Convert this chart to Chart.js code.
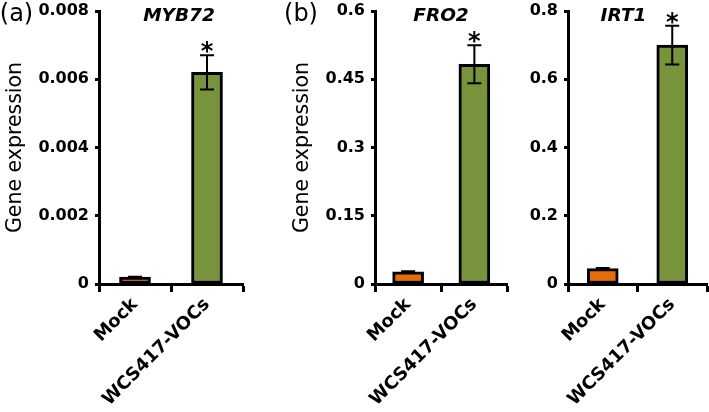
<!DOCTYPE html>
<html><head><meta charset="utf-8">
<script src="https://cdn.jsdelivr.net/npm/chart.js@4/dist/chart.umd.min.js"></script>
<style>
html,body{margin:0;padding:0;background:#fff;}
#wrap{position:relative;width:709px;height:412px;overflow:hidden;background:#fff;}
.p{position:absolute;top:0;height:412px;}
canvas{display:block;}
</style></head><body>
<div id="wrap">
<div class="p" style="left:0;width:250px"><canvas id="ca" width="250" height="412"></canvas></div>
<div class="p" style="left:250px;width:265px"><canvas id="cb" width="265" height="412"></canvas></div>
<div class="p" style="left:515px;width:194px"><canvas id="cc" width="194" height="412"></canvas></div>
</div>
<script>
// ---- data ----
const categories = ["Mock", "WCS417-VOCs"];
const significance = ["", "*"];
const myb72Values = [0.0002, 0.0062];
const myb72Errors = [0.00001, 0.0005];
const fro2Values = [0.027, 0.483];
const fro2Errors = [0.001, 0.042];
const irt1Values = [0.045, 0.70];
const irt1Errors = [0.002, 0.057];
const myb72Ticks = [0, 0.008, 0.002];
const fro2Ticks = [0, 0.6, 0.15];
const irt1Ticks = [0, 0.8, 0.2];

const barColors = ["#E46C0A", "#77933C"];
const FONT = '"DejaVu Sans", sans-serif';

const decor = {
  id: 'decor',
  afterDatasetsDraw(chart, args, o) {
    const ctx = chart.ctx, y = chart.scales.y, meta = chart.getDatasetMeta(0);
    ctx.save();
    ctx.strokeStyle = '#000'; ctx.lineWidth = 2;
    o.values.forEach((v, i) => {
      const e = o.errors[i], x = meta.data[i].x;
      const yt = y.getPixelForValue(v + e), yb = y.getPixelForValue(v - e);
      ctx.beginPath();
      ctx.moveTo(x, yt); ctx.lineTo(x, yb);
      ctx.moveTo(x - 7, yt); ctx.lineTo(x + 7, yt);
      ctx.moveTo(x - 7, yb); ctx.lineTo(x + 7, yb);
      ctx.stroke();
      if (o.sig[i]) {
        ctx.fillStyle = '#000';
        ctx.font = 'bold 24px ' + FONT;
        ctx.textAlign = 'center'; ctx.textBaseline = 'alphabetic';
        ctx.fillText(o.sig[i], x, yt + 4);
      }
    });
    ctx.fillStyle = '#000';
    // gene name
    ctx.font = 'italic bold 18.5px ' + FONT;
    ctx.textAlign = 'center'; ctx.textBaseline = 'middle';
    ctx.fillText(o.gene, o.geneX, 16);
    // panel letter
    if (o.letter) {
      ctx.font = '24px ' + FONT;
      ctx.fillText(o.letter, o.letterX, 15);
    }
    // y title
    if (o.yTitle) {
      const ca = chart.chartArea;
      ctx.translate(o.yTitleX, (ca.top + ca.bottom) / 2);
      ctx.rotate(-Math.PI / 2);
      ctx.font = '20.5px ' + FONT;
      ctx.fillText(o.yTitle, 0, 0);
    }
    ctx.restore();
  }
};

function fmt(v) { return String(Number(v.toFixed(4))); }

function makePanel(id, values, errors, ticks, gene, geneX, letter, letterX, yTitle, yTitleX, yWidth, padRight) {
  return new Chart(document.getElementById(id), {
    type: 'bar',
    data: {
      labels: categories,
      datasets: [{
        data: values,
        backgroundColor: barColors,
        borderColor: '#000',
        borderWidth: 3,
        borderSkipped: false,
        barThickness: 31
      }]
    },
    options: {
      responsive: false,
      animation: false,
      events: [],
      layout: { padding: { top: 11, bottom: 0, left: 0, right: padRight } },
      plugins: {
        legend: { display: false }, tooltip: { enabled: false }, title: { display: false },
        decor: { values, errors, sig: significance, gene, geneX, letter, letterX, yTitle, yTitleX }
      },
      scales: {
        x: {
          offset: true,
          border: { display: true, color: '#000', width: 3 },
          grid: { offset: true, drawOnChartArea: false, drawTicks: true, tickLength: 8, tickWidth: 3, tickColor: '#000' },
          ticks: { color: '#000', font: { family: FONT, weight: 'bold', size: 18 }, minRotation: 45, maxRotation: 45, padding: 2, autoSkip: false },
          afterFit(s) { s.height = 128; s.paddingLeft = 0; s.paddingRight = 0; }
        },
        y: {
          min: ticks[0], max: ticks[1],
          border: { display: true, color: '#000', width: 3 },
          grid: { drawOnChartArea: false, drawTicks: true, tickLength: 4, tickWidth: 3, tickColor: '#000' },
          ticks: { stepSize: ticks[2], color: '#000', font: { family: FONT, weight: 'bold', size: 16 }, padding: 6, callback: v => fmt(v) },
          afterFit(s) { s.width = yWidth; s.paddingTop = 0; s.paddingBottom = 0; }
        }
      }
    },
    plugins: [decor]
  });
}

makePanel('ca', myb72Values, myb72Errors, myb72Ticks, 'MYB72', 179, '(a)', 16.5, 'Gene expression', 16, 99, 7);
makePanel('cb', fro2Values, fro2Errors, fro2Ticks, 'FRO2', 191, '(b)', 51, 'Gene expression', 53, 125, 7.5);
makePanel('cc', irt1Values, irt1Errors, irt1Ticks, 'IRT1', 108.5, null, 0, null, 0, 53, 2);
</script>
</body></html>
